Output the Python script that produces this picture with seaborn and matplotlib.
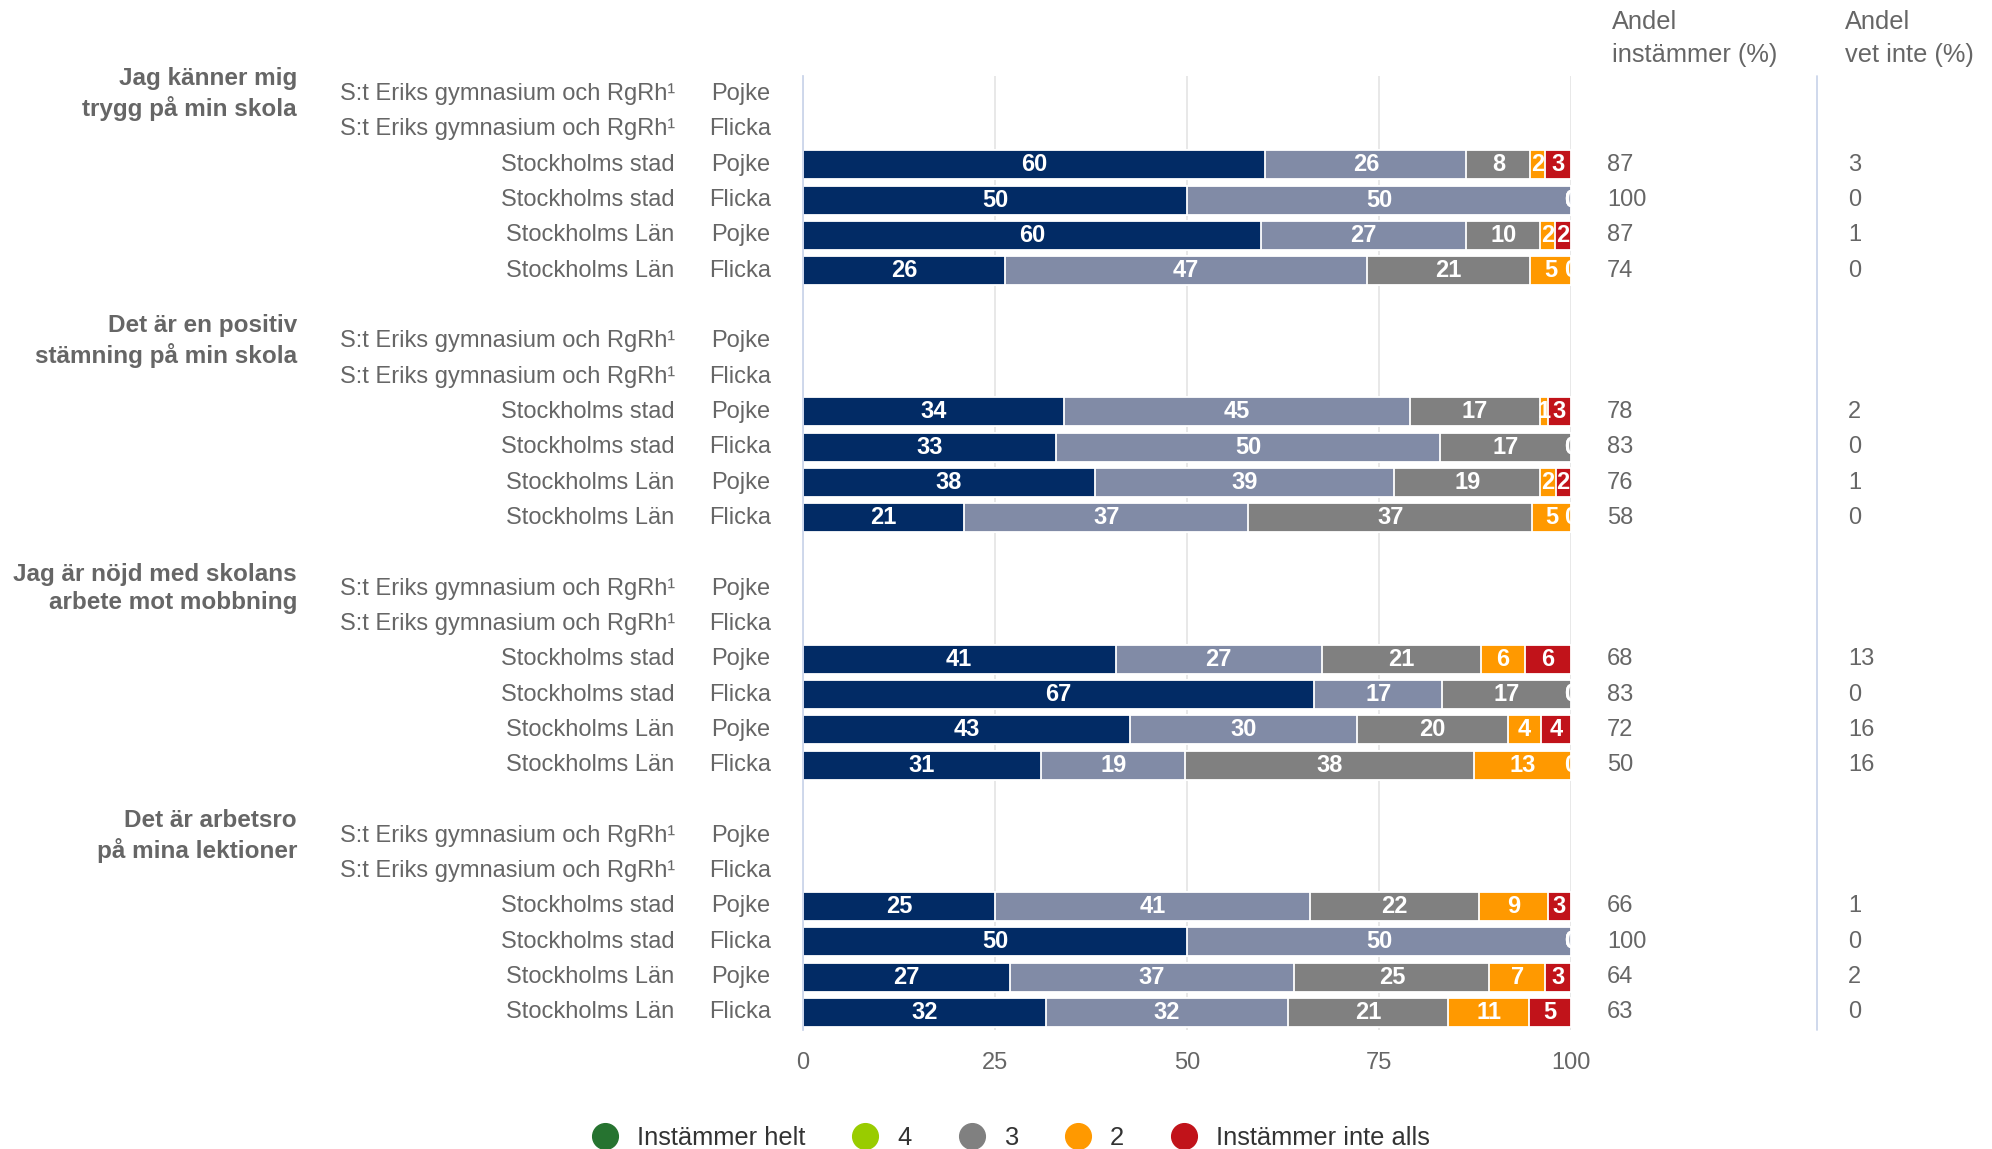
import numpy as np
import pandas as pd
import matplotlib
matplotlib.use("Agg")
import matplotlib.pyplot as plt
from matplotlib.lines import Line2D
import seaborn as sns

# --- data ---
questions = ["Jag känner mig\ntrygg på min skola",
             "Det är en positiv\nstämning på min skola",
             "Jag är nöjd med skolans\narbete mot mobbning",
             "Det är arbetsro\npå mina lektioner"]
units = ["S:t Eriks gymnasium och RgRh¹", "S:t Eriks gymnasium och RgRh¹",
         "Stockholms stad", "Stockholms stad", "Stockholms Län", "Stockholms Län"]
genders = ["Pojke", "Flicka", "Pojke", "Flicka", "Pojke", "Flicka"]

# only the Stockholm rows have data (stad P, stad F, Län P, Län F per question)
# percentages, estimated to one decimal where the rounded labels don't add to 100
helt = [60.2, 50, 59.6, 26.3, 34, 33, 38, 21, 40.7, 66.6, 42.6, 31.0, 25, 50, 26.9, 31.6]
fyra = [26.2, 50, 26.8, 47.1, 45, 50, 39, 37, 26.9, 16.6, 29.6, 18.8, 41, 50, 37.1, 31.6]
tre = [8.3, 0, 9.6, 21.3, 17, 17, 19, 37, 20.7, 16.8, 19.6, 37.6, 22, 0, 25.4, 20.8]
tva = [1.9, 0, 1.9, 5.3, 1, 0, 2, 5, 5.7, 0, 4.3, 12.6, 9, 0, 7.2, 10.6]
inte = [3.4, 0, 2.1, 0, 3, 0, 2, 0, 6.0, 0, 3.9, 0, 3, 0, 3.4, 5.4]
andel_instammer = [87, 100, 87, 74, 78, 83, 76, 58, 68, 83, 72, 50, 66, 100, 64, 63]
andel_vet_inte = [3, 0, 1, 0, 2, 0, 1, 0, 13, 0, 16, 16, 1, 0, 2, 0]

levels = ["Instämmer helt", "4", "3", "2", "Instämmer inte alls"]
bar_colors = ["#022b65", "#818ba6", "#808080", "#ff9900", "#c1131a"]
legend_colors = ["#267330", "#99cc00", "#808080", "#ff9900", "#c1131a"]

# slot order: 4 groups x 6 rows with a blank slot between groups
order = []
for g in range(4):
    for r in range(6):
        order.append(f"q{g}r{r}")
    if g < 3:
        order.append(f"gap{g}")

rows = []
k = 0
for g in range(4):
    for r in range(2, 6):
        vals = [helt[k], fyra[k], tre[k], tva[k], inte[k]]
        cum = np.cumsum(vals)
        for lvl, v, c in zip(levels, vals, cum):
            rows.append({"row": f"q{g}r{r}", "level": lvl, "value": v, "cum": c})
        k += 1
df = pd.DataFrame(rows)

sns.set_style("white")
plt.rcParams["font.family"] = ["Liberation Sans", "DejaVu Sans"]

fig = plt.figure(figsize=(19.92, 11.49), dpi=100)
ax = fig.add_axes([0.4031, 0.1035, 0.3855, 0.8300])

# stacked bars: draw cumulative totals widest first
for lvl, col in reversed(list(zip(levels, bar_colors))):
    sns.barplot(data=df[df["level"] == lvl], x="cum", y="row", order=order,
                orient="h", color=col, saturation=1, width=0.82, errorbar=None,
                edgecolor="white", linewidth=1.3, ax=ax)

# segment labels
pos = {name: i for i, name in enumerate(order)}
for _, rw in df.iterrows():
    ax.text(rw["cum"] - rw["value"] / 2, pos[rw["row"]], f"{rw['value']:.0f}",
            ha="center", va="center", color="white", fontsize=17,
            fontweight="bold", clip_on=True)

ax.set_xlim(0, 100)
ax.set_ylim(len(order) - 0.5, -0.5)
ax.set_xlabel("")
ax.set_ylabel("")
ax.set_xticks([0, 25, 50, 75, 100])
ax.tick_params(axis="x", length=0, pad=16, labelsize=17, labelcolor="#666666")
ax.set_yticks(np.arange(-0.5, len(order), 1))
ax.set_yticklabels([])
ax.tick_params(axis="y", length=14, width=1.3, color="#ccd6eb")
ax.xaxis.grid(True, color="#e6e6e6", linewidth=1.3)
ax.yaxis.grid(False)
ax.set_axisbelow(True)
for s in ["top", "right", "bottom"]:
    ax.spines[s].set_visible(False)
ax.spines["left"].set_color("#ccd6eb")
ax.spines["left"].set_linewidth(1.3)

# category labels
txt = "#666666"
for g in range(4):
    for r in range(6):
        y = pos[f"q{g}r{r}"]
        ax.text(-16.7, y, units[r], ha="right", va="center", fontsize=17,
                color=txt, clip_on=False)
        ax.text(-4.2, y, genders[r], ha="right", va="center", fontsize=17,
                color=txt, clip_on=False)
    ax.text(-65.9, pos[f"q{g}r0"], questions[g], ha="right", va="center",
            fontsize=17.5, fontweight="bold", color=txt, linespacing=1.3,
            clip_on=False)

# right-hand columns
k = 0
for g in range(4):
    for r in range(2, 6):
        y = pos[f"q{g}r{r}"]
        ax.text(104.7, y, str(andel_instammer[k]), ha="left", va="center",
                fontsize=17, color=txt, clip_on=False)
        ax.text(136.1, y, str(andel_vet_inte[k]), ha="left", va="center",
                fontsize=17, color=txt, clip_on=False)
        k += 1
ax.text(105.3, -1.57, "Andel\ninstämmer (%)", ha="left", va="center",
        fontsize=18.3, color=txt, linespacing=1.45, clip_on=False)
ax.text(135.7, -1.57, "Andel\nvet inte (%)", ha="left", va="center",
        fontsize=18.3, color=txt, linespacing=1.45, clip_on=False)
ax.plot([132.0, 132.0], [-0.5, len(order) - 0.5], color="#ccd6eb",
        linewidth=1.3, clip_on=False)

# legend
handles = [Line2D([], [], marker="o", linestyle="none", markersize=18.5,
                  markerfacecolor=c, markeredgecolor=c) for c in legend_colors]
fig.legend(handles, levels, loc="center", bbox_to_anchor=(0.5076, 0.0095),
           ncol=5, frameon=False, fontsize=18.4, labelcolor="#333333",
           handlelength=1.0, handletextpad=0.75, columnspacing=1.85)

fig.savefig("out.png", dpi=100)
